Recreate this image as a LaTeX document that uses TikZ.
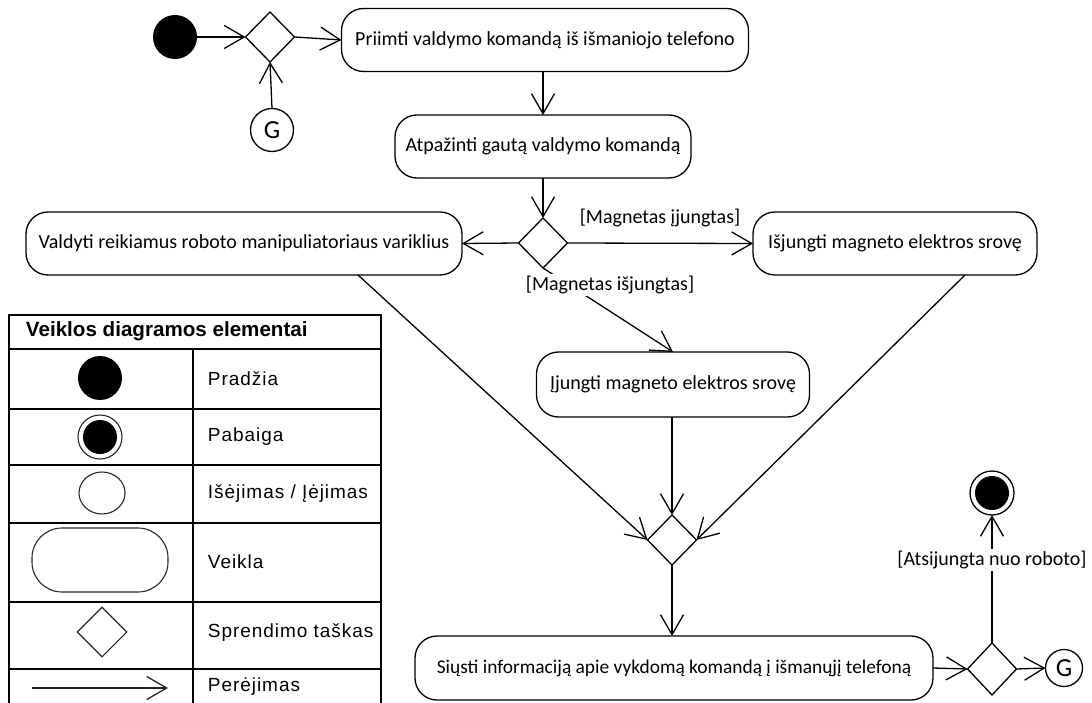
\documentclass[tikz,border=0pt]{standalone}
\usepackage{fontspec}
\setmainfont{Carlito}
\newfontfamily\legendfont{Liberation Sans}
\usetikzlibrary{arrows.meta,shapes.geometric,calc}

\begin{document}
\begin{tikzpicture}[x=1pt,y=-1pt,
  line width=1.3pt,
  arr/.style={-{Straight Barb[length=20pt,width=23pt,line width=1.3pt]}},
  act/.style={draw, rounded corners=22pt, inner sep=0pt, outer sep=0pt,
    font=\fontsize{20}{23}\selectfont},
  dec/.style={draw, diamond, inner sep=0pt, outer sep=0pt,
    minimum width=49pt, minimum height=50pt},
  startdot/.style={circle, fill=black, inner sep=0pt, outer sep=0pt, minimum size=44pt},
  enddot/.style={circle, draw, inner sep=0pt, outer sep=0pt, minimum size=44pt,
    path picture={\fill (path picture bounding box.center) circle (17pt);}},
  conn/.style={circle, draw, inner sep=0pt, outer sep=0pt, font=\fontsize{26}{26}\selectfont},
  guard/.style={font=\fontsize{20}{23}\selectfont, inner sep=2pt},
  lgtext/.style={anchor=west, font=\legendfont\fontsize{19}{22}\selectfont\addfontfeatures{LetterSpace=5}},
  lgicon/.style={draw=black!85, line width=1.1pt},
]
\useasboundingbox (0,0) rectangle (1092,703);

% ---- flow ----
\node[startdot] (start) at (175,37) {};
\node[dec] (d1) at (270,37) {};
\node[conn, minimum size=43pt] (g1) at (272,130) {G};
\node[act, minimum width=407pt, minimum height=63pt] (a1) at (545,40)
  {Priimti valdymo komandą iš išmaniojo telefono};
\node[act, minimum width=296pt, minimum height=63pt] (a2) at (543,146.5)
  {Atpažinti gautą valdymo komandą};
\node[dec] (d2) at (543,243) {};
\node[act, minimum width=436pt, minimum height=63pt] (a3) at (244,243.5)
  {Valdyti reikiamus roboto manipuliatoriaus variklius};
\node[act, minimum width=284pt, minimum height=63pt] (a4) at (895,243.5)
  {Išjungti magneto elektros srovę};
\node[act, minimum width=273pt, minimum height=65pt] (a5) at (673,384.5)
  {Įjungti magneto elektros srovę};
\node[dec] (d3) at (672,540) {};
\node[act, minimum width=518pt, minimum height=64pt, font=\fontsize{19.4}{22}\selectfont] (a6) at (674,668)
  {Siųsti informaciją apie vykdomą komandą į išmanųjį telefoną};
\node[dec, minimum height=52pt] (d4) at (992,669) {};
\node[conn, minimum size=37pt] (g2) at (1064,668) {G};
\node[enddot] (end) at (992,493) {};

\draw[arr] (start) -- (d1.west);
\draw[arr] (d1.east) -- (a1.west);
\draw[arr] (g1.north) -- (d1.south);
\draw[arr] (a1.south -| a2.north) -- (a2.north);
\draw[arr] (a2.south) -- (d2.north);
\draw[arr] (d2.west) -- (a3.east);
\draw[arr] (d2.east) -- (a4.west);
\node[guard] (gon) at (660,218) {[Magnetas įjungtas]};
\draw[arr] (d2.south) -- (a5.north);
\node[guard, fill=white] (goff) at (610,285) {[Magnetas išjungtas]};
\draw[arr] ($(a3.south)+(114,0)$) -- (d3.west);
\draw[arr] ($(a4.south)+(70,0)$) -- (d3.east);
\draw[arr] (a5.south -| d3.north) -- (d3.north);
\draw[arr] (d3.south) -- (a6.north -| d3.south);
\draw[arr] (a6.east) -- (d4.west);
\draw[arr] (d4.east) -- (g2.west);
\draw[arr] (d4.north) -- (end.south);
\node[guard, fill=white] (gquit) at (992,560) {[Atsijungta nuo roboto]};

% ---- legend table ----
\begin{scope}[line width=1.6pt]
  \draw (9,703) -- (9,315) -- (381,315) -- (381,703);
  \draw (9,349) -- (381,349);
  \foreach \yy in {409,465,523,602,669} \draw (9,\yy) -- (381,\yy);
  \draw (193,349) -- (193,703);
\end{scope}
\node[anchor=west, font=\legendfont\bfseries\fontsize{20.6}{22}\selectfont] (lghead) at (22,331)
  {Veiklos diagramos elementai};

\node[startdot] (lgstart) at (100,378) {};
\node[lgtext] (lt1) at (204,379) {Pradžia};
\node[enddot, lgicon] (lgend) at (100,437) {};
\node[lgtext] (lt2) at (204,437) {Pabaiga};
\node[ellipse, lgicon, minimum width=46pt, minimum height=42pt, inner sep=0pt] (lgconn) at (102,493) {};
\node[lgtext] (lt3) at (204,494) {Išėjimas / Įėjimas};
\node[lgicon, rounded corners=30pt, minimum width=136pt, minimum height=64pt, inner sep=0pt] (lgact) at (100,560) {};
\node[lgtext] (lt4) at (204,562) {Veikla};
\node[diamond, lgicon, minimum width=50pt, minimum height=50pt, inner sep=0pt] (lgdec) at (102,632) {};
\node[lgtext] (lt5) at (204,633) {Sprendimo taškas};
\coordinate (lgfrom) at (32,688);
\coordinate (lgto) at (168,688);
\draw[arr, lgicon] (lgfrom) -- (lgto);
\node[lgtext] (lt6) at (204,687) {Perėjimas};
\end{tikzpicture}
\end{document}
